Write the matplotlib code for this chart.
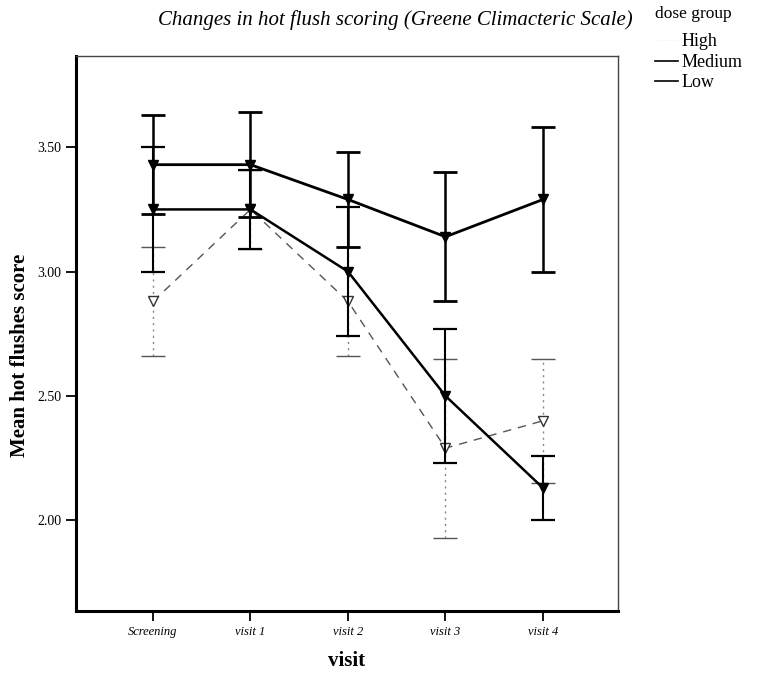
import matplotlib.pyplot as plt
from matplotlib.lines import Line2D

visits = ["Screening", "visit 1", "visit 2", "visit 3", "visit 4"]

# mean scores per dose group
low_mean = [3.43, 3.43, 3.29, 3.14, 3.29]
low_err = [0.20, 0.21, 0.19, 0.26, 0.29]
medium_mean = [3.25, 3.25, 3.00, 2.50, 2.13]
medium_err = [0.25, 0.16, 0.26, 0.27, 0.13]
high_mean = [2.88, 3.25, 2.88, 2.29, 2.40]
high_err = [0.22, 0.16, 0.22, 0.36, 0.25]

yticks = [2.00, 2.50, 3.00, 3.50]

plt.rcParams['font.family'] = ['Liberation Serif', 'DejaVu Serif']

fig = plt.figure(figsize=(7.63, 6.78), dpi=100)
ax = fig.add_axes([0.0996, 0.0988, 0.7104, 0.8186])
x = list(range(len(visits)))

# upper group: thick line, filled triangles
ax.errorbar(x, low_mean, yerr=low_err, color='black', lw=2.0, elinewidth=1.8,
            capsize=8.5, capthick=2.0, marker='v', ms=7, mfc='black', zorder=3)
# middle group
ax.errorbar(x, medium_mean, yerr=medium_err, color='black', lw=1.8, elinewidth=1.5,
            capsize=8.5, capthick=1.6, marker='v', ms=7, mfc='black', zorder=3)
# faint dashed group, open triangles
ax.errorbar(x, high_mean, yerr=high_err, color='#555555', lw=1.0, ls=(0, (6, 5)),
            elinewidth=1.0, capsize=8.5, capthick=1.0, marker='v', ms=7,
            mfc='white', mec='#333333', zorder=2)
for bar in ax.containers[-1].lines[2]:
    bar.set_linestyle((0, (1.5, 3)))
    bar.set_alpha(0.7)

ax.set_xlim(-0.79, 4.77)
ax.set_ylim(1.635, 3.867)
ax.set_xticks(x)
ax.set_xticklabels(visits, fontstyle='italic', fontsize=9)
ax.set_yticks(yticks)
ax.set_yticklabels(["%.2f" % v for v in yticks], fontsize=10)
ax.tick_params(axis='both', direction='out', length=7, width=1.3, colors='black')

for side in ['left', 'bottom']:
    ax.spines[side].set_linewidth(2.2)
for side in ['top', 'right']:
    ax.spines[side].set_linewidth(1.0)
    ax.spines[side].set_color('#444444')

fig.text(0.518, 0.970, "Changes in hot flush scoring (Greene Climacteric Scale)",
         fontsize=15, fontstyle='italic', ha='center', va='center')
ax.set_ylabel("Mean hot flushes score", fontsize=15, fontweight='bold')
ax.yaxis.set_label_coords(-0.085, 0.46)
ax.set_xlabel("visit", fontsize=15, fontweight='bold', labelpad=10)

handles = [Line2D([], [], color='#eeeeee', lw=0.6, ls=':'),
           Line2D([], [], color='black', lw=1.2),
           Line2D([], [], color='black', lw=1.2)]
leg = fig.legend(handles, ["High", "Medium", "Low"], title="dose group",
                 loc='upper left', bbox_to_anchor=(0.858, 0.991), frameon=False,
                 fontsize=13, title_fontsize=12.5, handlelength=1.3,
                 handletextpad=0.2, labelspacing=0.2, borderpad=0,
                 borderaxespad=0)
leg._legend_box.align = "left"
leg._legend_box.sep = 8

fig.savefig("out.png", dpi=100)
